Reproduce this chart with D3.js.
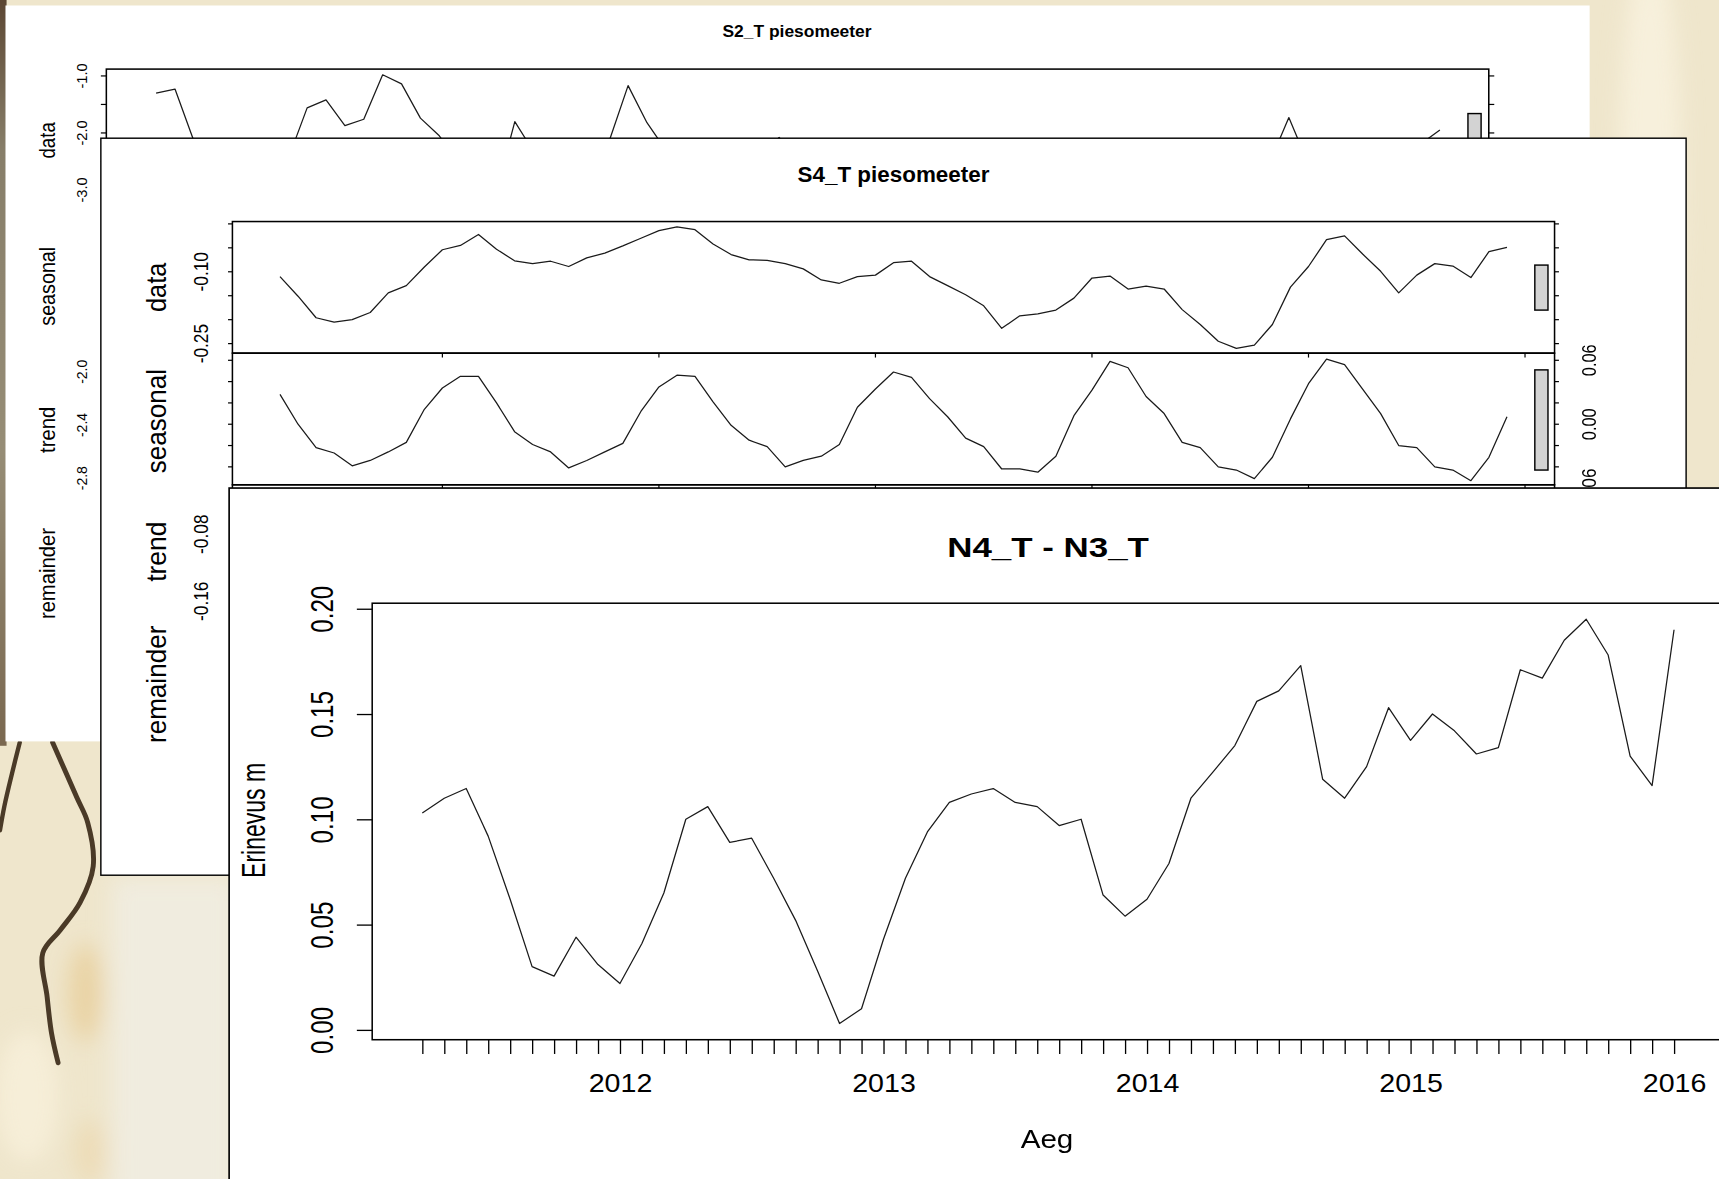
<!DOCTYPE html>
<meta charset="utf-8">
<script src="https://d3js.org/d3.v7.min.js"></script>
<style>
  body { margin: 0; overflow: hidden; background: #efe6cc; }
  svg { display: block; }
  text { font-family: "Liberation Sans", Arial, sans-serif; fill: #000; stroke: none; }
  .series { fill: none; stroke: #1a1a1a; stroke-width: 1.15; stroke-linejoin: round; }
  .frame { fill: none; stroke: #000; stroke-width: 1.4; }
  .tickmark { stroke: #000; stroke-width: 1.1; }
  .range-bar { fill: #d3d3d3; stroke: #000; stroke-width: 1.3; }
</style>
<div id="chart"></div>
<script>
// all series are monthly and start in April 2011
const startYear = 2011.25;
const panelNames = ["data", "seasonal", "trend", "remainder"];

// S2_T piesomeeter, stl "data" panel (values under the second window are estimates)
const s2Data = [-1.30, -1.23, -2.14, -2.70, -3.00, -3.10, -2.90, -2.45, -1.56, -1.42,
                -1.87, -1.76, -0.98, -1.14, -1.74, -2.05, -2.50, -2.60, -3.05, -1.80,
                -2.33, -2.70, -2.90, -2.80, -2.14, -1.17, -1.82, -2.30, -2.60, -2.80,
                -3.00, -2.70, -2.40, -2.08, -2.50, -2.90, -3.20, -3.30, -3.10, -2.80,
                -2.60, -2.70, -2.90, -3.10, -3.20, -3.00, -2.70, -2.50, -2.60, -2.80,
                -3.00, -3.20, -3.30, -3.20, -2.90, -2.70, -2.60, -2.50, -2.40, -2.51,
                -1.73, -2.52, -2.80, -3.00, -2.90, -2.70, -2.60, -2.19, -1.95];
const s2DataTicks = [-1.0, -1.5, -2.0, -2.5, -3.0];
const s2DataLabels = [-1.0, -2.0, -3.0];
const s2TrendLabels = [-2.0, -2.4, -2.8];
const s2RangeBar = 0.96;

// S4_T piesomeeter, stl data and seasonal components
const s4Data = [-0.110, -0.151, -0.196, -0.205, -0.200, -0.185, -0.144, -0.129, -0.090, -0.054,
                -0.045, -0.022, -0.053, -0.077, -0.083, -0.078, -0.089, -0.071, -0.061, -0.046,
                -0.030, -0.014, -0.006, -0.012, -0.042, -0.064, -0.075, -0.076, -0.083, -0.094,
                -0.117, -0.124, -0.110, -0.107, -0.081, -0.078, -0.110, -0.129, -0.148, -0.171,
                -0.218, -0.192, -0.188, -0.180, -0.155, -0.113, -0.109, -0.136, -0.130, -0.136,
                -0.179, -0.210, -0.245, -0.260, -0.253, -0.210, -0.132, -0.089, -0.033, -0.025,
                -0.063, -0.099, -0.144, -0.107, -0.083, -0.088, -0.112, -0.058, -0.049];
const s4Seasonal = [0.028, 0.000, -0.022, -0.027, -0.039, -0.034, -0.026, -0.017, 0.014, 0.034,
                    0.045, 0.045, 0.020, -0.007, -0.019, -0.026, -0.041, -0.034, -0.026, -0.018,
                    0.012, 0.035, 0.046, 0.045, 0.021, -0.001, -0.015, -0.021, -0.040, -0.034,
                    -0.030, -0.019, 0.016, 0.033, 0.049, 0.044, 0.024, 0.007, -0.013, -0.021,
                    -0.042, -0.042, -0.045, -0.030, 0.008, 0.032, 0.059, 0.053, 0.026, 0.010,
                    -0.017, -0.022, -0.040, -0.043, -0.051, -0.031, 0.005, 0.038, 0.061, 0.056,
                    0.033, 0.010, -0.020, -0.022, -0.040, -0.043, -0.053, -0.031, 0.007];
const s4DataTicks = [0, -0.05, -0.10, -0.15, -0.20, -0.25];
const s4DataLabels = [-0.10, -0.25];
const s4SeasTicks = [0.06, 0.04, 0.02, 0, -0.02, -0.04];
const s4SeasLabels = [0.06, 0.00, -0.06];
const s4TrendLabels = [-0.08, -0.16];
const s4RangeBar = 0.094;

// N4_T - N3_T, difference in metres
const diffValues = [0.103, 0.110, 0.1146, 0.092, 0.062, 0.030, 0.0255, 0.044, 0.031, 0.022,
                    0.041, 0.065, 0.100, 0.106, 0.089, 0.091, 0.072, 0.052, 0.028, 0.003,
                    0.010, 0.043, 0.072, 0.094, 0.108, 0.112, 0.1146, 0.108, 0.106, 0.097,
                    0.100, 0.064, 0.054, 0.062, 0.079, 0.110, 0.1224, 0.135, 0.156, 0.161,
                    0.173, 0.119, 0.110, 0.125, 0.153, 0.1375, 0.150, 0.142, 0.131, 0.134,
                    0.171, 0.167, 0.185, 0.195, 0.178, 0.130, 0.116, 0.190];
const diffTicks = [0, 0.05, 0.10, 0.15, 0.20];
const years = [2012, 2013, 2014, 2015, 2016];
const stlYears = [2012, 2013, 2014, 2015, 2016, 2017];

const W = 1568, H = 1075;
const svg = d3.select("#chart").append("svg")
    .attr("width", 1719).attr("height", 1179)
    .attr("viewBox", "0 0 " + W + " " + H)
    .attr("preserveAspectRatio", "none");

// ---------- backdrop ----------
const defs = svg.append("defs");
defs.append("filter").attr("id", "soft")
    .attr("x", "-50%").attr("y", "-50%").attr("width", "200%").attr("height", "200%")
    .append("feGaussianBlur").attr("stdDeviation", 10);
const edge = defs.append("linearGradient").attr("id", "edge")
    .attr("x1", 0).attr("y1", 0).attr("x2", 0).attr("y2", 1);
[["0%", "#5c4733"], ["20%", "#877e69"], ["60%", "#968d76"], ["100%", "#7a6850"]]
    .forEach(function (s) { edge.append("stop").attr("offset", s[0]).attr("stop-color", s[1]); });

svg.append("rect").attr("width", W).attr("height", H).attr("fill", "#efe6cc");
const wash = svg.append("g").attr("filter", "url(#soft)");
wash.append("rect").attr("x", 102).attr("y", 800).attr("width", 115).attr("height", 300).attr("fill", "#f0ecdf");
wash.append("ellipse").attr("cx", 1505).attr("cy", 160).attr("rx", 28).attr("ry", 210).attr("fill", "#f7f0dc");
wash.append("ellipse").attr("cx", 78).attr("cy", 905).attr("rx", 16).attr("ry", 45).attr("fill", "#e6c68a").attr("opacity", 0.6);
wash.append("ellipse").attr("cx", 82).attr("cy", 1050).attr("rx", 14).attr("ry", 30).attr("fill", "#ecd2a2").attr("opacity", 0.5);
wash.append("ellipse").attr("cx", 25).attr("cy", 1000).attr("rx", 28).attr("ry", 60).attr("fill", "#f6eed8");
svg.append("rect").attr("x", 0).attr("y", 0).attr("width", 6).attr("height", 680).attr("fill", "url(#edge)");

const crack = d3.line().curve(d3.curveCatmullRom);
svg.append("path")
    .attr("d", crack([[48, 677], [70, 727], [80, 750], [85, 790], [73, 823], [55, 848], [39, 869], [43, 909], [47, 942], [53, 969]]))
    .attr("fill", "none").attr("stroke", "#4a3a27").attr("stroke-width", 4.5).attr("stroke-linecap", "round");
svg.append("path")
    .attr("d", crack([[18, 677], [11, 705], [4, 735], [0, 757]]))
    .attr("fill", "none").attr("stroke", "#4a3a27").attr("stroke-width", 4).attr("stroke-linecap", "round");

// ---------- helpers ----------
function label(g, x, y, txt, size, len, opts) {
    opts = opts || {};
    const t = g.append("text")
        .attr("font-size", size)
        .attr("text-anchor", "middle")
        .attr("textLength", len)
        .attr("lengthAdjust", "spacingAndGlyphs")
        .text(txt);
    if (opts.rotate) t.attr("transform", "translate(" + x + "," + y + ") rotate(-90)");
    else t.attr("x", x).attr("y", y);
    if (opts.bold) t.attr("font-weight", "bold");
    return t;
}

function frame(g, x0, x1, y) {
    const r = y.range();
    g.append("rect").attr("class", "frame")
        .attr("x", x0).attr("y", r[1])
        .attr("width", x1 - x0).attr("height", r[0] - r[1]);
}

function sideTicks(g, x0, x1, y, values, len) {
    g.selectAll(null).data(values).join("line").attr("class", "tickmark")
        .attr("x1", x0 - len).attr("x2", x0)
        .attr("y1", function (d) { return y(d); }).attr("y2", function (d) { return y(d); });
    g.selectAll(null).data(values).join("line").attr("class", "tickmark")
        .attr("x1", x1).attr("x2", x1 + len)
        .attr("y1", function (d) { return y(d); }).attr("y2", function (d) { return y(d); });
}

function yearTicks(g, x, yBottom, values) {
    g.selectAll(null).data(values).join("line").attr("class", "tickmark")
        .attr("x1", function (d) { return x(d); }).attr("x2", function (d) { return x(d); })
        .attr("y1", yBottom).attr("y2", yBottom + 4);
}

function series(g, x, y, values) {
    const line = d3.line()
        .x(function (d, i) { return x(startYear + i / 12); })
        .y(function (d) { return y(d); });
    g.append("path").attr("class", "series").attr("d", line(values));
}

function rangeBar(g, x, width, y, values, len) {
    const mid = (d3.max(values) + d3.min(values)) / 2;
    g.append("rect").attr("class", "range-bar")
        .attr("x", x).attr("width", width)
        .attr("y", y(mid + len / 2))
        .attr("height", y(mid - len / 2) - y(mid + len / 2));
}

const fmt1 = function (d) { return d.toFixed(1); };
const fmt2 = function (d) { return d.toFixed(2); };

// ---------- window 1: S2_T piesomeeter ----------
const w1 = svg.append("g");
w1.append("rect").attr("x", 5).attr("y", 5).attr("width", 1445).attr("height", 671).attr("fill", "#fff");
label(w1, 727, 34, "S2_T piesomeeter", 14.5, 136, {bold: true});

const x1s = d3.scaleLinear().domain([startYear, startYear + 68 / 12]).range([142.4, 1313.4]);
const y1Data = d3.scaleLinear().domain([-3.40, -0.88]).range([194, 63]);
const y1Trend = d3.scaleLinear().domain([-2.0, -2.8]).range([339, 436]);
const w1Bounds = [63, 194, 325, 456, 587];

for (let p = 1; p < 4; p++) {
    frame(w1, 97, 1358, d3.scaleLinear().range([w1Bounds[p + 1], w1Bounds[p]]));
}
frame(w1, 97, 1358, y1Data);
sideTicks(w1, 97, 1358, y1Data, s2DataTicks, 5);
yearTicks(w1, x1s, 194, stlYears);
series(w1, x1s, y1Data, s2Data);
rangeBar(w1, 1339, 12, y1Data, s2Data, s2RangeBar);

s2DataLabels.forEach(function (v) { label(w1, 79, y1Data(v), fmt1(v), 14, 23, {rotate: true}); });
s2TrendLabels.forEach(function (v) { label(w1, 79, y1Trend(v), fmt1(v), 14, 22, {rotate: true}); });
const w1NameY = [128, 261, 392, 523];
const w1NameLen = [33, 72, 42, 83];
panelNames.forEach(function (n, i) { label(w1, 50, w1NameY[i], n, 20, w1NameLen[i], {rotate: true}); });

// ---------- window 2: S4_T piesomeeter ----------
const w2 = svg.append("g");
w2.append("rect").attr("x", 92).attr("y", 126).attr("width", 1446).attr("height", 672)
    .attr("fill", "#fff").attr("stroke", "#000").attr("stroke-width", 1.3);
label(w2, 815, 166, "S4_T piesomeeter", 20, 175, {bold: true});

const x2s = d3.scaleLinear().domain([startYear, startYear + 68 / 12]).range([255.4, 1374.6]);
const y2Data = d3.scaleLinear().domain([-0.2699, 0.0049]).range([322, 202]);
const y2Seas = d3.scaleLinear().domain([-0.0568, 0.0667]).range([442, 322]);
const y2Trend = d3.scaleLinear().domain([-0.178, -0.021]).range([562, 442]);
const y2Rem = d3.scaleLinear().range([682, 562]);

[y2Trend, y2Rem].forEach(function (y) { frame(w2, 212, 1418, y); });
frame(w2, 212, 1418, y2Data);
frame(w2, 212, 1418, y2Seas);
sideTicks(w2, 212, 1418, y2Data, s4DataTicks, 4);
sideTicks(w2, 212, 1418, y2Seas, s4SeasTicks, 4);
yearTicks(w2, x2s, 322, stlYears);
yearTicks(w2, x2s, 442, stlYears);
series(w2, x2s, y2Data, s4Data);
series(w2, x2s, y2Seas, s4Seasonal);
rangeBar(w2, 1400, 12, y2Data, s4Data, s4RangeBar);
rangeBar(w2, 1400, 12, y2Seas, s4Seasonal, s4RangeBar);

s4DataLabels.forEach(function (v) { label(w2, 190, y2Data(v), fmt2(v), 19, 36, {rotate: true}); });
s4TrendLabels.forEach(function (v) { label(w2, 190, y2Trend(v), fmt2(v), 19, 36, {rotate: true}); });
s4SeasLabels.forEach(function (v) {
    label(w2, 1456, y2Seas(v), fmt2(v), 18, v < 0 ? 36 : 29, {rotate: true});
});
const w2NameY = [262, 384, 503, 624];
const w2NameLen = [45, 95, 55, 107];
panelNames.forEach(function (n, i) { label(w2, 151, w2NameY[i], n, 26, w2NameLen[i], {rotate: true}); });

// ---------- window 3: N4_T - N3_T ----------
const w3 = svg.append("g");
w3.append("rect").attr("x", 209).attr("y", 445).attr("width", 1400).attr("height", 700)
    .attr("fill", "#fff").attr("stroke", "#000").attr("stroke-width", 1.5);
label(w3, 956, 508, "N4_T - N3_T", 25, 184, {bold: true});

const x3s = d3.scaleLinear().domain([startYear, startYear + 57 / 12]).range([385.2, 1527]);
const y3s = d3.scaleLinear().domain([0, 0.2]).range([939, 555]);

w3.append("rect").attr("class", "frame")
    .attr("x", 339.5).attr("y", 550).attr("width", 1572.7 - 339.5).attr("height", 398);
series(w3, x3s, y3s, diffValues);

const yAxis = w3.append("g").attr("transform", "translate(339.5,0)")
    .call(d3.axisLeft(y3s).tickValues(diffTicks).tickSize(14).tickFormat(fmt2));
yAxis.select(".domain").remove();
yAxis.selectAll("line").attr("stroke", "#000").attr("stroke-width", 1.2);
yAxis.selectAll("text")
    .attr("x", null).attr("dy", null)
    .attr("transform", "translate(-36,0) rotate(-90)")
    .attr("text-anchor", "middle")
    .attr("font-size", 28)
    .attr("textLength", 43)
    .attr("lengthAdjust", "spacingAndGlyphs")
    .attr("fill", "#1a1a1a");

const months = d3.range(diffValues.length).map(function (i) { return startYear + i / 12; });
const xAxis = w3.append("g").attr("transform", "translate(0,948)")
    .call(d3.axisBottom(x3s).tickValues(months).tickSize(13)
        .tickFormat(function (d) {
            const r = Math.round(d);
            return Math.abs(d - r) < 1e-6 && years.indexOf(r) >= 0 ? String(r) : "";
        }));
xAxis.select(".domain").remove();
xAxis.selectAll("line").attr("stroke", "#000").attr("stroke-width", 1.2);
xAxis.selectAll("text")
    .attr("y", 47.5).attr("dy", null)
    .attr("font-size", 23)
    .attr("fill", "#1a1a1a")
    .filter(function () { return this.textContent !== ""; })
    .attr("textLength", 58)
    .attr("lengthAdjust", "spacingAndGlyphs");

label(w3, 242, 748, "Erinevus m", 30, 105, {rotate: true});
label(w3, 955, 1047, "Aeg", 23, 48);
</script>
